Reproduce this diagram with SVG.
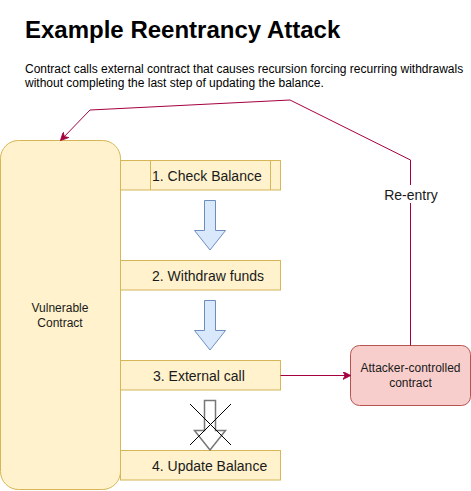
<svg xmlns="http://www.w3.org/2000/svg" width="471" height="491" viewBox="0 0 471 491">
  <style>
    text { font-family: "Liberation Sans", Arial, sans-serif; fill: #1a1a1a; }
    .step { fill: #fff2cc; stroke: #d6b656; stroke-width: 1; }
    .arrow { fill: #dae8fc; stroke: #6c8ebf; stroke-width: 1; }
    .conn { fill: none; stroke: #a50040; stroke-width: 1; }
    .t14 { font-size: 14px; }
    .t12 { font-size: 12px; }
  </style>
  <defs>
    <marker id="ah" viewBox="0 0 10 10" refX="9" refY="5" markerWidth="8" markerHeight="8" markerUnits="userSpaceOnUse" orient="auto">
      <path d="M0,0 L10,5 L0,10 L3,5 Z" fill="#a50040" stroke="#a50040" stroke-width="1"/>
    </marker>
  </defs>
  <rect width="471" height="491" fill="#ffffff"/>

  <g id="title">
    <text x="25" y="38" font-size="24" font-weight="bold" style="fill:#000">Example Reentrancy Attack</text>
    <text x="25" y="73" class="t12" style="fill:#000">Contract calls external contract that causes recursion forcing recurring withdrawals</text>
    <text x="25" y="87" class="t12" style="fill:#000">without completing the last step of updating the balance.</text>
  </g>

  <g id="vulnerable-contract">
    <rect x="0.5" y="140.5" width="120" height="349" rx="18" ry="18" fill="#fff2cc" stroke="#d6b656"/>
    <text x="60" y="312" class="t12" text-anchor="middle">Vulnerable</text>
    <text x="60" y="327" class="t12" text-anchor="middle">Contract</text>
  </g>

  <g id="step1">
    <rect class="step" x="120.5" y="160.5" width="160" height="29.5"/>
    <line x1="150.5" y1="160.5" x2="150.5" y2="190" stroke="#d6b656"/>
    <line x1="270.5" y1="160.5" x2="270.5" y2="190" stroke="#d6b656"/>
    <text x="152" y="181" class="t14">1. Check Balance</text>
  </g>

  <g id="step2">
    <rect class="step" x="120.5" y="260.5" width="160" height="29.5"/>
    <text x="152" y="281" class="t14">2. Withdraw funds</text>
  </g>

  <g id="step3">
    <rect class="step" x="120.5" y="360.5" width="160" height="29.5"/>
    <text x="153" y="381" class="t14">3. External call</text>
  </g>

  <g id="step4">
    <rect class="step" x="120.5" y="450.5" width="160" height="29.5"/>
    <text x="152" y="471" class="t14">4. Update Balance</text>
  </g>

  <g id="attacker-contract">
    <rect x="350.5" y="345.5" width="120" height="60" rx="9" ry="9" fill="#f8cecc" stroke="#b85450"/>
    <text x="410.5" y="372" class="t12" text-anchor="middle">Attacker-controlled</text>
    <text x="410.5" y="387" class="t12" text-anchor="middle">contract</text>
  </g>

  <g id="flow-arrows">
    <path class="arrow" d="M204.5,200.5 H215.5 V230.5 H225.5 L210,250 L194.5,230.5 H204.5 Z"/>
    <path class="arrow" d="M204.5,300.5 H215.5 V330.5 H225.5 L210,350 L194.5,330.5 H204.5 Z"/>
    <path d="M204.5,400.5 H215.5 V430.5 H225.5 L210,450 L194.5,430.5 H204.5 Z" fill="#ffffff" stroke="#777777" stroke-width="1.5"/>
    <line x1="190" y1="404" x2="231" y2="445" stroke="#000" stroke-width="1"/>
    <line x1="231" y1="404" x2="190" y2="445" stroke="#000" stroke-width="1"/>
  </g>

  <g id="connectors">
    <line class="conn" x1="280.5" y1="375.5" x2="350" y2="375.5" marker-end="url(#ah)"/>
    <polyline class="conn" points="410.5,345.5 410.5,160 290,100 90,110 61,140" marker-end="url(#ah)"/>
    <rect x="383" y="185" width="56" height="18" fill="#ffffff"/>
    <text x="411" y="200" class="t14" text-anchor="middle">Re-entry</text>
  </g>
</svg>
